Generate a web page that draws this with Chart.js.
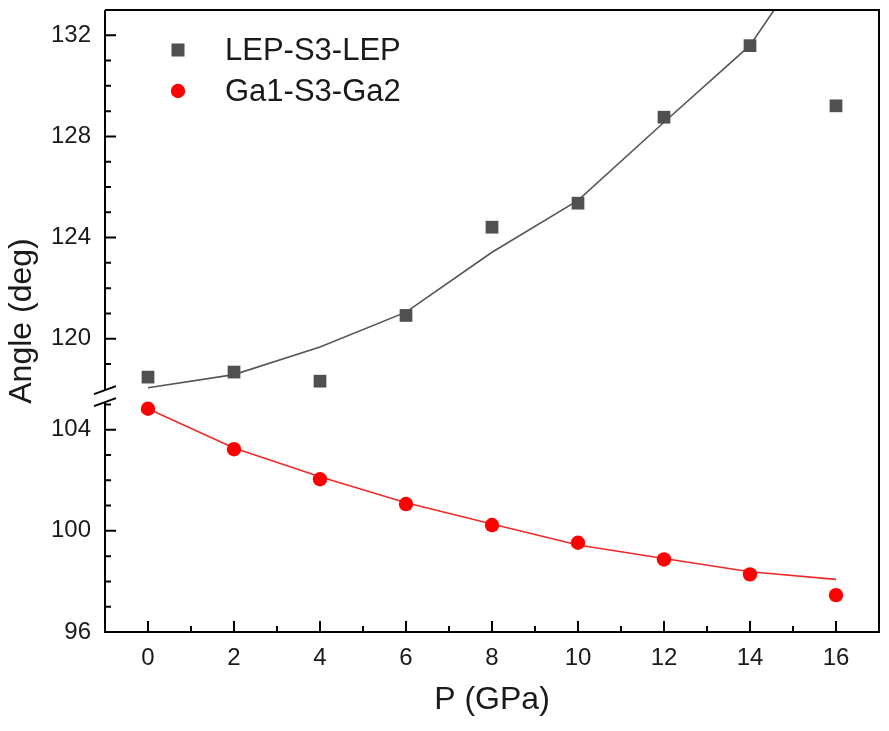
<!DOCTYPE html>
<html><head><meta charset="utf-8">
<script src="https://cdn.jsdelivr.net/npm/chart.js@4.4.0/dist/chart.umd.min.js"></script>
<style>html,body{margin:0;padding:0;background:#fff;} #wrap{width:889px;height:731px;position:relative}</style>
</head><body><div id="wrap"><canvas id="c" width="889" height="731"></canvas></div>
<script>
// ---- data ----
const pressure = [0, 2, 4, 6, 8, 10, 12, 14, 16];
const lepAngle = [118.48, 118.68, 118.32, 120.92, 124.41, 125.36, 128.76, 131.59, 129.21];
const gaAngle  = [104.83, 103.23, 102.04, 101.06, 100.23, 99.53, 98.87, 98.28, 97.46];
const lepFit   = [118.06, 118.58, 119.67, 121.05, 123.42, 125.47, 128.56, 131.6, 136.6];
const gaFit    = [104.83, 103.28, 102.14, 101.11, 100.27, 99.44, 98.91, 98.38, 98.08];
const seriesNames = ['LEP-S3-LEP', 'Ga1-S3-Ga2'];
const xTickLabels = [0, 2, 4, 6, 8, 10, 12, 14, 16];
const yTickLabels = [96, 100, 104, 120, 124, 128, 132];

// ---- broken y axis mapping ----
const BREAK_LOW = 105.25;   // top of lower segment
const BREAK_SHIFT = 12.4;   // upper segment = real - shift
const Y_MIN = 96, Y_TOP = 133;
const toDisp = v => v > 110 ? v - BREAK_SHIFT : v;
const toReal = d => d > BREAK_LOW + 0.01 ? d + BREAK_SHIFT : d;

const pts = (xs, ys) => xs.map((x, i) => ({x: x, y: toDisp(ys[i])}));

const GRAY = '#505050', RED = '#ff0000';
const TXT = '#1a1a1a';
const FONT = "'Liberation Sans', Arial, sans-serif";

const frame = {
  id: 'frame',
  afterDraw(chart) {
    const ctx = chart.ctx, a = chart.chartArea;
    const xs = chart.scales.x, ys = chart.scales.y;
    const yb = ys.getPixelForValue(BREAK_LOW) - 2;
    ctx.save();
    ctx.strokeStyle = '#000';
    ctx.lineWidth = 2;
    ctx.lineCap = 'butt';
    ctx.beginPath();
    ctx.moveTo(a.left, a.top); ctx.lineTo(a.right, a.top);
    ctx.lineTo(a.right, a.bottom); ctx.lineTo(a.left, a.bottom);
    ctx.lineTo(a.left, yb + 6);
    ctx.moveTo(a.left, yb - 6); ctx.lineTo(a.left, a.top);
    ctx.stroke();
    ctx.beginPath();
    ctx.moveTo(a.left - 11, yb - 2); ctx.lineTo(a.left + 11, yb - 10);
    ctx.moveTo(a.left - 11, yb + 10); ctx.lineTo(a.left + 11, yb + 2);
    ctx.stroke();
    ctx.beginPath();
    for (let v = -1; v <= 17; v++) {
      const px = xs.getPixelForValue(v);
      if (px <= a.left + 1 || px >= a.right - 1) continue;
      const len = (v % 2 === 0) ? 11 : 6;
      ctx.moveTo(px, a.bottom); ctx.lineTo(px, a.bottom - len);
    }
    const yVals = [];
    for (let v = 97; v <= 105; v++) yVals.push(v);
    for (let v = 119; v <= 132; v++) yVals.push(v);
    yVals.forEach(v => {
      const py = ys.getPixelForValue(toDisp(v));
      const len = (v % 4 === 0) ? 11 : 6;
      ctx.moveTo(a.left, py); ctx.lineTo(a.left + len, py);
    });
    ctx.stroke();
    // legend
    const lx = a.left + 73, ly = [a.top + 40, a.top + 81];
    ctx.fillStyle = GRAY;
    ctx.fillRect(lx - 6.5, ly[0] - 6.5, 13, 13);
    ctx.fillStyle = RED;
    ctx.beginPath(); ctx.arc(lx, ly[1], 7.2, 0, Math.PI * 2); ctx.fill();
    ctx.fillStyle = TXT;
    ctx.font = '31px ' + FONT;
    ctx.textBaseline = 'middle';
    ctx.textAlign = 'left';
    ctx.fillText(seriesNames[0], lx + 47, ly[0] + 1);
    ctx.fillText(seriesNames[1], lx + 47, ly[1] + 1);
    ctx.restore();
  }
};

new Chart(document.getElementById('c'), {
  type: 'scatter',
  data: {
    datasets: [
      {label: seriesNames[0] + ' fit', data: pts(pressure, lepFit), showLine: true, borderColor: '#555555',
       borderWidth: 1.6, pointRadius: 0, fill: false, order: 3},
      {label: seriesNames[1] + ' fit', data: pts(pressure, gaFit), showLine: true, borderColor: '#ee2a2a',
       borderWidth: 1.6, pointRadius: 0, fill: false, order: 4},
      {label: seriesNames[0], data: pts(pressure, lepAngle), pointStyle: 'rect', pointRadius: 9,
       backgroundColor: GRAY, borderColor: GRAY, borderWidth: 0, order: 1},
      {label: seriesNames[1], data: pts(pressure, gaAngle), pointStyle: 'circle', pointRadius: 7.2,
       backgroundColor: RED, borderColor: RED, borderWidth: 0, order: 2}
    ]
  },
  options: {
    responsive: false, animation: false, devicePixelRatio: 1,
    layout: {padding: {top: 10, right: 10, left: 0, bottom: 0}},
    plugins: {legend: {display: false}, tooltip: {enabled: false}},
    scales: {
      x: {
        type: 'linear', min: -1, max: 17,
        afterBuildTicks: s => { s.ticks = xTickLabels.map(v => ({value: v})); },
        afterFit: s => { s.height = 99; s.paddingLeft = 0; s.paddingRight = 0; },
        grid: {display: false, drawTicks: false},
        border: {display: false},
        ticks: {color: TXT, font: {size: 24, family: FONT}, padding: 12, maxRotation: 0},
        title: {display: true, text: 'P (GPa)', color: TXT, font: {size: 32, family: FONT}, padding: {top: 0, bottom: 12}}
      },
      y: {
        type: 'linear', min: Y_MIN, max: Y_TOP - BREAK_SHIFT,
        afterBuildTicks: s => { s.ticks = yTickLabels.map(v => ({value: toDisp(v)})); },
        afterFit: s => { s.width = 105; s.paddingTop = 0; s.paddingBottom = 0; },
        grid: {display: false, drawTicks: false},
        border: {display: false},
        ticks: {color: TXT, font: {size: 24, family: FONT}, padding: 14,
                callback: v => String(Math.round(toReal(v)))},
        title: {display: true, text: 'Angle (deg)', color: TXT, font: {size: 32, family: FONT}, padding: {top: 3, bottom: 0}}
      }
    }
  },
  plugins: [frame]
});
</script></body></html>
